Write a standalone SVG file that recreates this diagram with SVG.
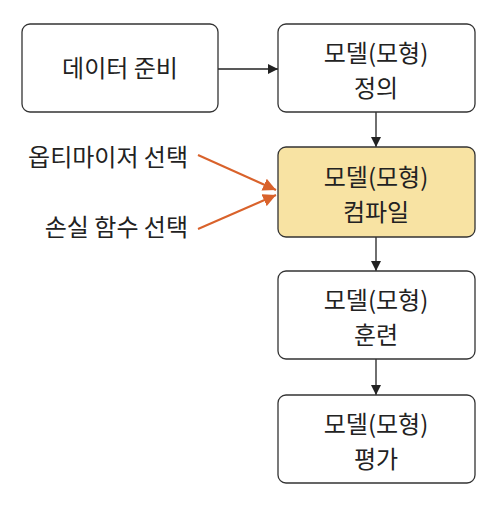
<svg xmlns="http://www.w3.org/2000/svg" width="495" height="506" viewBox="0 0 495 506">
<style>
.box{fill:#fff;stroke:#333;stroke-width:1.3}
.hl{fill:#f8e3a3}
text{font-family:"Noto Sans CJK KR","Noto Sans",sans-serif;font-size:24px;fill:#222}
.c{text-anchor:middle}
.r{text-anchor:end}
.k{stroke:#222;stroke-width:1.3;fill:none}
.o{stroke:#d9622b;stroke-width:2;fill:none}
</style>
<defs>
<marker id="ak" viewBox="0 0 10 10" refX="10" refY="5" markerWidth="10" markerHeight="10" markerUnits="userSpaceOnUse" orient="auto"><path d="M0,0L10,5L0,10z" fill="#222"/></marker>
<marker id="ao" viewBox="0 0 10 10" refX="10" refY="5" markerWidth="13" markerHeight="13" markerUnits="userSpaceOnUse" orient="auto"><path d="M0,0L10,5L0,10z" fill="#d9622b"/></marker>
</defs>
<rect width="495" height="506" fill="#fff"/>
<g id="connectors">
<line class="k" x1="218" y1="69" x2="278" y2="69" marker-end="url(#ak)"/>
<line class="k" x1="376" y1="112" x2="376" y2="147" marker-end="url(#ak)"/>
<line class="k" x1="376" y1="237" x2="376" y2="271" marker-end="url(#ak)"/>
<line class="k" x1="376" y1="359" x2="376" y2="395" marker-end="url(#ak)"/>
<line class="o" x1="198" y1="155" x2="276" y2="190" marker-end="url(#ao)"/>
<line class="o" x1="198" y1="229" x2="276" y2="195" marker-end="url(#ao)"/>
</g>
<g id="data">
<rect class="box" x="22" y="24" width="196" height="88" rx="8"/>
<text class="c" x="120" y="77">데이터 준비</text>
</g>
<g id="define">
<rect class="box" x="278" y="24" width="197" height="88" rx="8"/>
<text class="c" x="376" y="62">모델(모형)</text>
<text class="c" x="376" y="97">정의</text>
</g>
<g id="compile">
<rect class="box hl" x="278" y="147" width="197" height="90" rx="8"/>
<text class="c" x="376" y="186">모델(모형)</text>
<text class="c" x="376" y="221">컴파일</text>
</g>
<g id="train">
<rect class="box" x="278" y="271" width="197" height="88" rx="8"/>
<text class="c" x="376" y="309">모델(모형)</text>
<text class="c" x="376" y="344">훈련</text>
</g>
<g id="eval">
<rect class="box" x="278" y="395" width="197" height="88" rx="8"/>
<text class="c" x="376" y="433">모델(모형)</text>
<text class="c" x="376" y="468">평가</text>
</g>
<g id="optimizer"><text class="r" x="188" y="166">옵티마이저 선택</text></g>
<g id="loss"><text class="r" x="188" y="236">손실 함수 선택</text></g>
</svg>
